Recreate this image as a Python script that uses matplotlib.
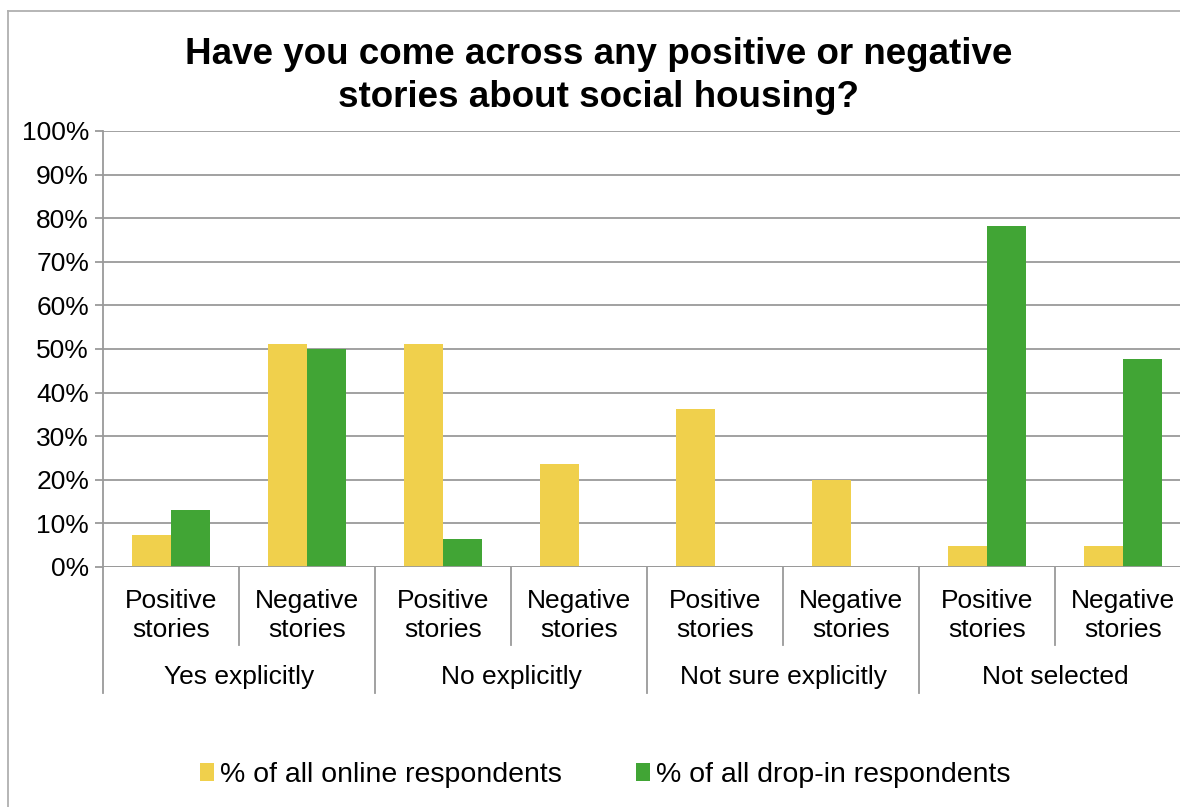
import matplotlib
matplotlib.use("Agg")
import matplotlib.pyplot as plt
from matplotlib.lines import Line2D
from matplotlib.patches import Patch
import matplotlib.transforms as mtransforms

plt.rcParams['font.family'] = ['Liberation Sans', 'DejaVu Sans']

# Data
groups = ["Yes explicitly", "No explicitly", "Not sure explicitly", "Not selected"]
subcats = ["Positive\nstories", "Negative\nstories"]
online = [7.3, 51.1, 51.2, 23.6, 36.2, 20.0, 4.9, 4.9]
dropin = [13.1, 50.0, 6.4, 0.0, 0.0, 0.0, 78.2, 47.7]
series_names = ["% of all online respondents", "% of all drop-in respondents"]
yticks = [0, 10, 20, 30, 40, 50, 60, 70, 80, 90, 100]

YELLOW = "#F0D04C"
GREEN = "#41A535"
GRID = "#9A9A9A"

W, H = 1180, 807
fig = plt.figure(figsize=(W / 100, H / 100), dpi=100)

# plot area in pixels
left_px, right_px, top_px, bot_px = 103, 103 + 8 * 136, 131, 567
ax = fig.add_axes([left_px / W, 1 - bot_px / H, (right_px - left_px) / W, (bot_px - top_px) / H])

n = len(online)
x = list(range(n))
bw = 0.287
ax.bar([i - bw / 2 for i in x], online, width=bw, color=YELLOW, zorder=3)
ax.bar([i + bw / 2 for i in x], dropin, width=bw, color=GREEN, zorder=3)

ax.set_xlim(-0.5, n - 0.5)
ax.set_ylim(0, 100)
ax.set_yticks(yticks)
ax.set_yticklabels([f"{t}%" for t in yticks], fontsize=19)
ax.yaxis.grid(True, color=GRID, linewidth=1.3, zorder=0)
ax.tick_params(axis='y', length=6, color=GRID, width=1.3, pad=4)
ax.set_xticks([])
for s in ["top", "right", "bottom"]:
    ax.spines[s].set_visible(False)
ax.spines["left"].set_color(GRID)
ax.spines["left"].set_linewidth(1.3)
ax.axhline(0, color=GRID, linewidth=1.3, zorder=4)

# Category separators under the axis
trans = mtransforms.blended_transform_factory(ax.transData, ax.transAxes)
def yax(px):
    return (bot_px - px) / (bot_px - top_px)

for k in range(n + 1):
    xb = k - 0.5
    ybot = yax(693) if k % 2 == 0 else yax(645)
    ax.add_line(Line2D([xb, xb], [0, ybot], transform=trans, color=GRID,
                       linewidth=1.3, clip_on=False))

for i in range(n):
    ax.text(i, yax(615.5), subcats[i % 2], transform=trans, ha='center', va='center',
            fontsize=19, linespacing=1.3)
for g, name in enumerate(groups):
    ax.text(2 * g + 0.5, yax(677), name, transform=trans, ha='center', va='center',
            fontsize=19)

# Title
fig.text(599 / W, 1 - 76 / H, "Have you come across any positive or negative\nstories about social housing?",
         ha='center', va='center', fontsize=26.5, fontweight='bold', linespacing=1.32)

# Legend
handles = [Patch(facecolor=YELLOW, edgecolor='none'), Patch(facecolor=GREEN, edgecolor='none')]
fig.legend(handles, series_names, loc='center', bbox_to_anchor=(605 / W, 1 - 775 / H),
           ncol=2, frameon=False, fontsize=20.5, handlelength=0.5, handleheight=0.55,
           handletextpad=0.2, columnspacing=2.6)

# Chart border
fig.add_artist(Line2D([8 / W, 8 / W], [0, 1 - 11 / H], transform=fig.transFigure,
                      color="#B0B0B0", linewidth=1.3))
fig.add_artist(Line2D([8 / W, 1], [1 - 11 / H, 1 - 11 / H], transform=fig.transFigure,
                      color="#B0B0B0", linewidth=1.3))

fig.savefig("out.png", dpi=100)
